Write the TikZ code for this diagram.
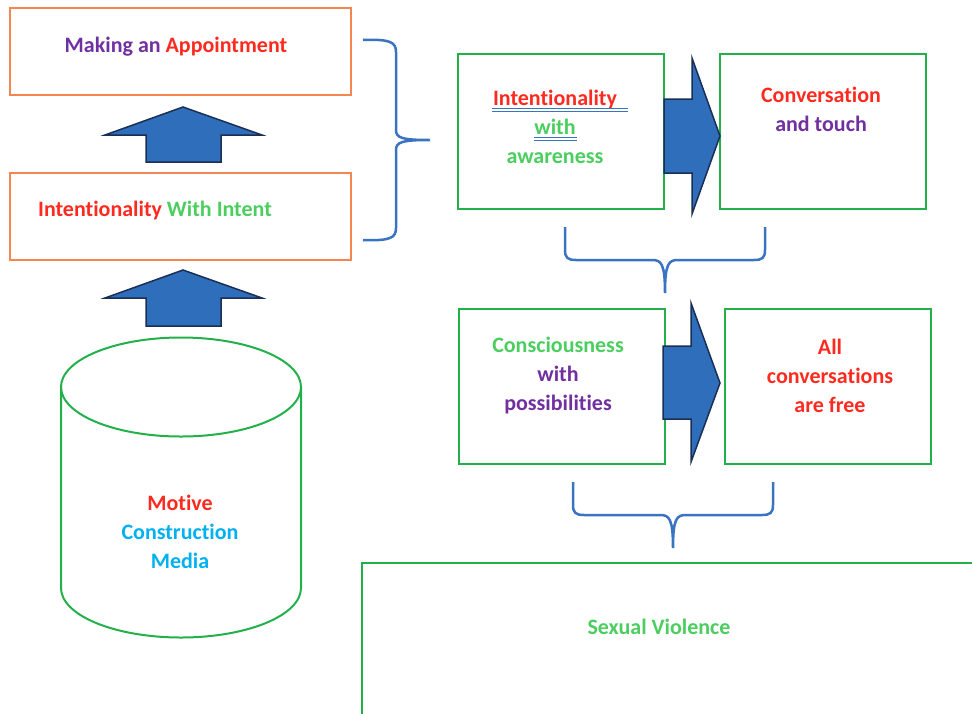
\documentclass[tikz,border=0pt]{standalone}
\usepackage{fontspec}
\setmainfont[Ligatures=CommonOff]{Carlito}
\definecolor{orangeb}{HTML}{F4864F}
\definecolor{greenb}{HTML}{22B04B}
\definecolor{tgreen}{HTML}{4BCE5F}
\definecolor{tred}{HTML}{FF2A1F}
\definecolor{tpurple}{HTML}{7030A0}
\definecolor{tcyan}{HTML}{00B0F0}
\definecolor{arrfill}{HTML}{2E6EBB}
\definecolor{arrline}{HTML}{1B2F55}
\definecolor{bracec}{HTML}{3A73C2}
\begin{document}
\begin{tikzpicture}[x=1pt,y=-1pt,
  obox/.style={draw=orangeb,line width=2pt,minimum width=341pt,minimum height=87pt,inner sep=0pt},
  gbox/.style={draw=greenb,line width=2pt,minimum width=206pt,minimum height=155pt,inner sep=0pt},
  txt/.style={font=\fontsize{22}{29}\selectfont\bfseries,align=center,inner sep=0pt},
  blockarrow/.style={fill=arrfill,draw=arrline,line width=1.5pt,line join=miter},
  bracepath/.style={draw=bracec,line width=2.5pt},
  uline/.style={draw=bracec,line width=0.9pt}]
\useasboundingbox (0,0) rectangle (972,713);
% left boxes
\node[obox] (appt) at (180.5,51.5) {};
\node[txt] (apptT) at (176,47) {\color{tpurple}Making an \color{tred}Appointment};
\node[obox] (intent) at (180.5,216) {};
\node[txt] (intentT) at (155,211) {\color{tred}Intentionality \color{tgreen}With Intent};
% up arrows
\draw[blockarrow] (183,107) -- (262,135) -- (221,135) -- (221,162) -- (146,162) -- (146,135) -- (105,135) -- cycle;
\draw[blockarrow] (183,270) -- (262,298) -- (221,298) -- (221,326) -- (146,326) -- (146,298) -- (105,298) -- cycle;
% cylinder
\draw[greenb,line width=2pt] (61,387) -- (61,588) arc[start angle=180,end angle=360,x radius=120pt,y radius=49.5pt] -- (301,387);
\draw[greenb,line width=2pt] (181,387) ellipse[x radius=120pt,y radius=49.5pt];
\node[txt] (cylT) at (180,532) {\color{tred}Motive\\\color{tcyan}Construction\\\color{tcyan}Media};
% left brace
\draw[bracepath] (363,40) .. controls (390,39) and (396,42) .. (396,52) -- (396,130) .. controls (396,138) and (402,140) .. (430,140) .. controls (402,140) and (396,142) .. (396,150) -- (396,228) .. controls (396,238) and (390,241) .. (363,240);
% top right boxes
\node[gbox] (aware) at (560.5,131.5) {};
\node[txt] (awareT) at (555,127) {\color{tred}Intentionality\\\color{tgreen}with\\\color{tgreen}awareness};
\draw[uline] (492,108.3) -- (628,108.3);
\draw[uline] (492,111) -- (628,111);
\draw[uline] (534,137.3) -- (577,137.3);
\draw[uline] (534,140) -- (577,140);
\node[gbox] (conv) at (822.5,131.5) {};
\node[txt] (convT) at (821,109.5) {\color{tred}Conversation\\\color{tpurple}and touch};
\draw[blockarrow] (664,99) -- (692,99) -- (692,58) -- (720,136) -- (692,214) -- (692,173) -- (664,173) -- cycle;
% brace 2
\draw[bracepath] (565,227) -- (565,250) .. controls (565,258) and (568,260) .. (576,260) -- (652,260) .. controls (661,260) and (665,263) .. (665,293) .. controls (665,263) and (669,260) .. (678,260) -- (754,260) .. controls (762,260) and (765,258) .. (765,250) -- (765,227);
% middle boxes
\node[gbox] (consc) at (562,386.5) {};
\node[txt] (conscT) at (558,376) {\color{tgreen}Consciousness\\\color{tpurple}with\\\color{tpurple}possibilities};
\node[gbox] (free) at (827.5,386.5) {};
\node[txt] (freeT) at (830,376) {\color{tred}All\\\color{tred}conversations\\\color{tred}are free};
\draw[blockarrow] (663,346) -- (691,346) -- (691,303) -- (720,383) -- (691,462) -- (691,419) -- (663,419) -- cycle;
% brace 3
\draw[bracepath] (573,482) -- (573,505) .. controls (573,513) and (576,515) .. (584,515) -- (660,515) .. controls (669,515) and (673,518) .. (673,548) .. controls (673,518) and (677,515) .. (686,515) -- (762,515) .. controls (770,515) and (773,513) .. (773,505) -- (773,482);
% bottom box
\node[draw=greenb,line width=2pt,minimum width=620pt,minimum height=170pt,inner sep=0pt] (sv) at (672,648) {};
\node[txt] (svT) at (659,627) {\color{tgreen}Sexual Violence};
\end{tikzpicture}
\end{document}
